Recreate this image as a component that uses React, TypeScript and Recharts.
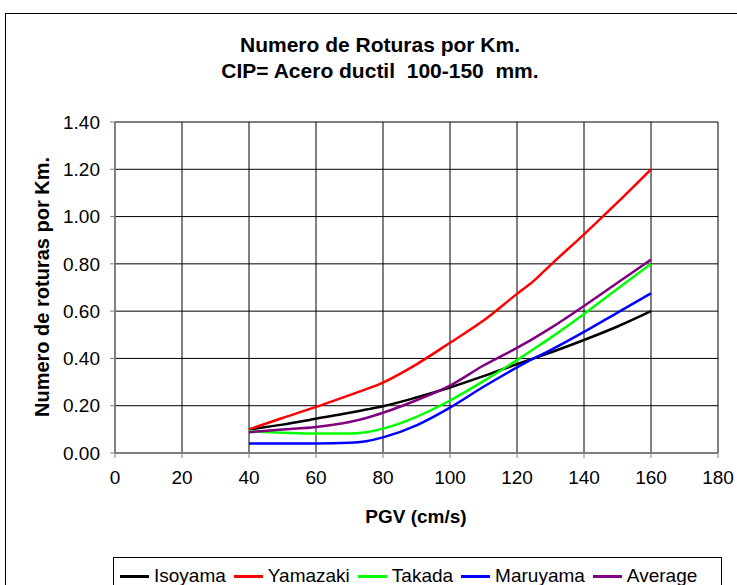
import React from "react";
import { LineChart, Line, XAxis, YAxis, CartesianGrid } from "recharts";

const pgv = [40, 50, 60, 70, 75, 80, 90, 100, 110, 120, 125, 130, 140, 150, 160];
const isoyama = [0.1, 0.12, 0.145, 0.17, 0.184, 0.198, 0.235, 0.277, 0.325, 0.376, 0.4, 0.425, 0.478, 0.535, 0.6];
const yamazaki = [0.1, 0.148, 0.195, 0.245, 0.27, 0.298, 0.375, 0.466, 0.56, 0.673, 0.728, 0.795, 0.925, 1.06, 1.2];
const takada = [0.092, 0.086, 0.082, 0.082, 0.088, 0.103, 0.153, 0.222, 0.304, 0.393, 0.44, 0.487, 0.588, 0.695, 0.8];
const maruyama = [0.04, 0.04, 0.04, 0.043, 0.05, 0.066, 0.117, 0.192, 0.28, 0.362, 0.4, 0.435, 0.512, 0.594, 0.675];
const average = [0.088, 0.099, 0.11, 0.131, 0.148, 0.17, 0.223, 0.285, 0.37, 0.445, 0.485, 0.528, 0.622, 0.72, 0.818];

const xTicks = [0, 20, 40, 60, 80, 100, 120, 140, 160, 180];
const yTicks = [0, 0.2, 0.4, 0.6, 0.8, 1.0, 1.2, 1.4];

const seriesNames = ["Isoyama", "Yamazaki", "Takada", "Maruyama", "Average"];
const seriesColors = ["#000000", "#FF0000", "#00FF00", "#0000FF", "#800080"];
const seriesValues = [isoyama, yamazaki, takada, maruyama, average];

const data = pgv.map((x, i) => {
  const row: Record<string, number> = { pgv: x };
  seriesNames.forEach((n, k) => {
    row[n] = seriesValues[k][i];
  });
  return row;
});

const FONT = "'Liberation Sans', Arial, sans-serif";

export default function App() {
  return (
    <div
      style={{
        position: "absolute",
        left: 0,
        top: 0,
        width: 737,
        height: 585,
        overflow: "hidden",
        background: "#fff",
        fontFamily: FONT,
      }}
    >
      <div
        style={{
          position: "absolute",
          left: 5,
          top: 13,
          width: 900,
          height: 900,
          border: "1px solid #000",
        }}
      />
      <div
        style={{
          position: "absolute",
          left: 0,
          top: 32,
          width: 760,
          textAlign: "center",
          fontWeight: "bold",
          fontSize: 21,
          lineHeight: "26px",
          color: "#000",
        }}
      >
        <div>Numero de Roturas por Km.</div>
        <div style={{ whiteSpace: "pre" }}>CIP= Acero ductil  100-150  mm.</div>
      </div>
      <div
        style={{
          position: "absolute",
          left: 42,
          top: 287,
          transform: "translate(-50%, -50%) rotate(-90deg)",
          fontWeight: "bold",
          fontSize: 20,
          whiteSpace: "nowrap",
          color: "#000",
        }}
      >
        Numero de roturas por Km.
      </div>
      <div
        style={{
          position: "absolute",
          left: 416,
          top: 517,
          transform: "translate(-50%, -50%)",
          fontWeight: "bold",
          fontSize: 19,
          whiteSpace: "nowrap",
          color: "#000",
        }}
      >
        PGV (cm/s)
      </div>
      <div style={{ position: "absolute", left: 0, top: 0 }}>
        <LineChart
          width={737}
          height={585}
          data={data}
          margin={{ top: 122, right: 19, left: 55, bottom: 92 }}
        >
          <CartesianGrid stroke="#000" strokeWidth={1} horizontal vertical />
          <XAxis
            dataKey="pgv"
            type="number"
            domain={[0, 180]}
            ticks={xTicks}
            height={40}
            tickSize={5}
            tickMargin={13}
            axisLine={{ stroke: "#808080", strokeWidth: 1.5 }}
            tickLine={{ stroke: "#808080" }}
            tick={{ fill: "#000", fontSize: 19, fontFamily: FONT }}
          />
          <YAxis
            type="number"
            domain={[0, 1.4]}
            ticks={yTicks}
            width={60}
            tickSize={5}
            tickMargin={10}
            tickFormatter={(v: number) => v.toFixed(2)}
            axisLine={{ stroke: "#808080", strokeWidth: 1.5 }}
            tickLine={{ stroke: "#808080" }}
            tick={{ fill: "#000", fontSize: 19, fontFamily: FONT }}
          />
          {seriesNames.map((n, k) => (
            <Line
              key={n}
              type="monotone"
              dataKey={n}
              stroke={seriesColors[k]}
              strokeWidth={2.5}
              dot={false}
              isAnimationActive={false}
            />
          ))}
        </LineChart>
      </div>
      <div
        style={{
          position: "absolute",
          left: 113,
          top: 557,
          width: 609,
          height: 40,
          border: "1px solid #000",
          boxSizing: "border-box",
          display: "flex",
          alignItems: "flex-start",
          paddingTop: 7,
          paddingLeft: 6,
          fontSize: 19,
          color: "#000",
        }}
      >
        {seriesNames.map((n, k) => (
          <div key={n} style={{ display: "flex", alignItems: "center", marginRight: 8 }}>
            <span
              style={{
                display: "inline-block",
                width: 29,
                height: 3,
                background: seriesColors[k],
                marginRight: 5,
              }}
            />
            <span>{n}</span>
          </div>
        ))}
      </div>
    </div>
  );
}
